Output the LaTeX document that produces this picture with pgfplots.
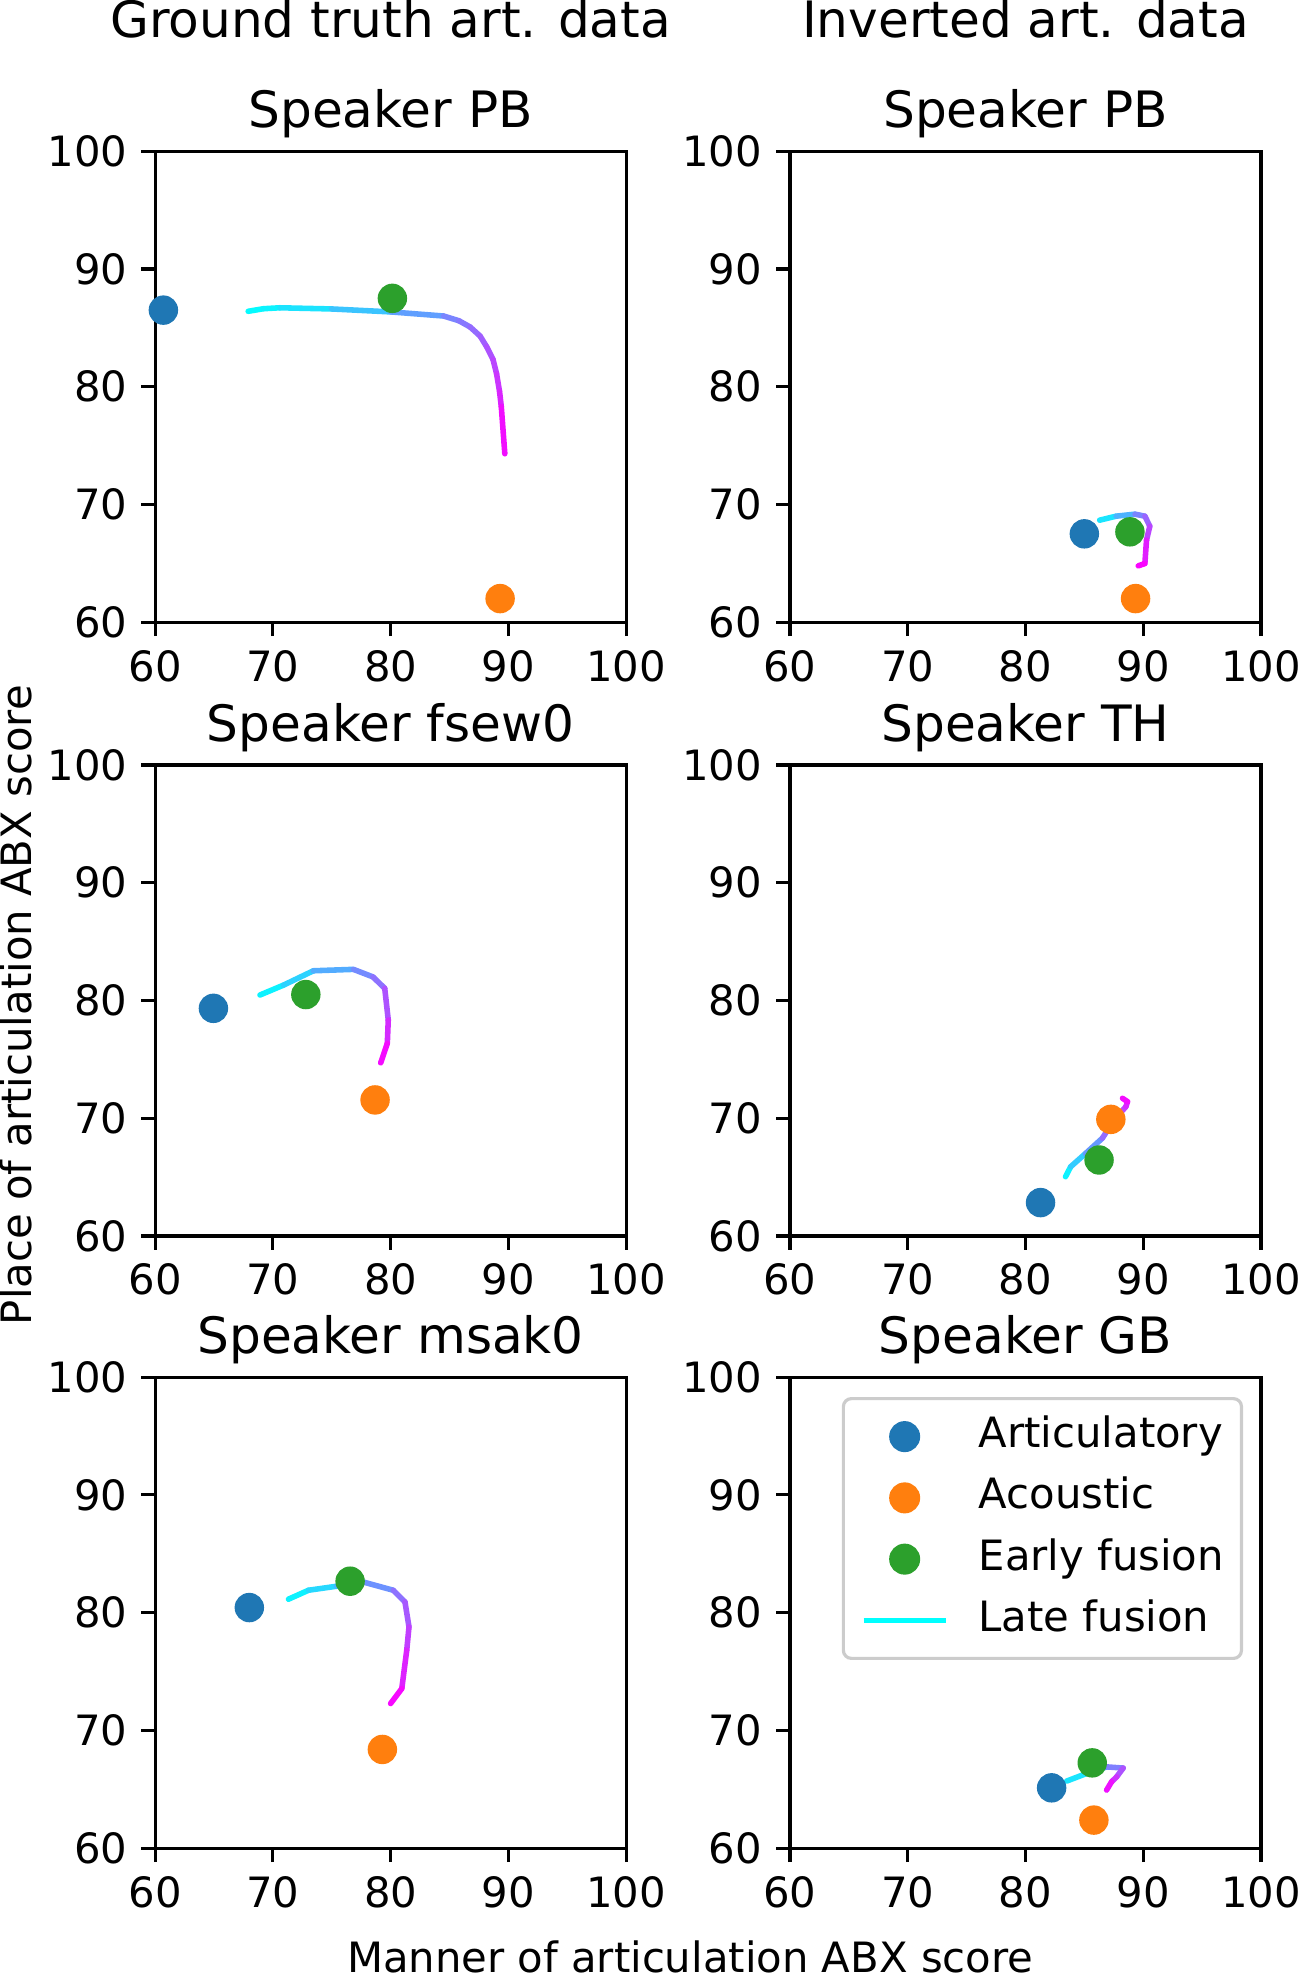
\documentclass[border=0pt]{standalone}
\usepackage{pgfplots}
\pgfplotsset{compat=1.18}
\usepackage{fontspec}
\setmainfont{DejaVu Sans}
\definecolor{tabblue}{HTML}{1F77B4}
\definecolor{taborange}{HTML}{FF7F0E}
\definecolor{tabgreen}{HTML}{2CA02C}
\definecolor{coolstart}{rgb}{0,1,1}

\pgfplotsset{
  panel/.style={
    width=118.4pt, height=118.4pt, scale only axis, anchor=north west,
    xmin=60, xmax=100, ymin=60, ymax=100,
    xtick={60,70,80,90,100}, ytick={60,70,80,90,100},
    xtick pos=left, ytick pos=left,
    tick align=outside, major tick length=3.5pt,
    tick style={black, line width=0.8pt},
    axis line style={line width=0.8pt},
    ticklabel style={font=\fontsize{10.5}{12.6}\selectfont},
    /pgf/number format/assume math mode=true,
    title style={font=\fontsize{12.6}{15}\selectfont, anchor=base},
    point meta min=0, point meta max=1,
    colormap={cool}{rgb=(0,1,1) rgb=(1,0,1)},
  },
  dotleg/.style={legend image code/.code={\draw[mark repeat=2,mark phase=2,##1] plot coordinates {(0pt,0pt) (10.3pt,0pt) (20.6pt,0pt)};}},
  lateleg/.style={legend image code/.code={\draw[##1] (0pt,0pt) -- (20.6pt,0pt);}},
  art/.style={only marks, mark=*, mark size=3.5pt, color=tabblue, dotleg},
  aco/.style={only marks, mark=*, mark size=3.5pt, color=taborange, dotleg},
  early/.style={only marks, mark=*, mark size=3.5pt, color=tabgreen, dotleg},
  late/.style={mesh, point meta=explicit, line width=1.4pt, line cap=round, line join=round, forget plot},
}

\begin{document}
\begin{tikzpicture}
\useasboundingbox (0,0) rectangle (326.6pt,-496.5pt);

\node[anchor=base, font=\fontsize{12.6}{15}\selectfont] at (98.2pt,-9.4pt) {Ground truth art. data};
\node[anchor=base, font=\fontsize{12.6}{15}\selectfont] at (257.8pt,-9.4pt) {Inverted art. data};
\node[anchor=base, rotate=90, font=\fontsize{10.5}{12.6}\selectfont] at (8.0pt,-252.7pt) {Place of articulation ABX score};
\node[anchor=base, font=\fontsize{10.5}{12.6}\selectfont] at (173.5pt,-495.8pt) {Manner of articulation ABX score};

% ground truth, PB
\begin{axis}[panel, at={(39.0pt,-38.0pt)}, title={Speaker PB}]
\addplot[art] coordinates {(60.7,86.5)};
\addplot[aco] coordinates {(89.3,62.0)};
\addplot[early] coordinates {(80.15,87.5)};
\addplot[late] coordinates {(67.9,86.4) [0] (69.2,86.62) [0.03] (70.6,86.7) [0.06] (75.0,86.6) [0.16] (80.0,86.35) [0.3] (84.5,86.0) [0.45] (85.8,85.6) [0.5] (86.75,85.07) [0.55] (87.6,84.3) [0.6] (88.15,83.4) [0.65] (88.7,82.3) [0.7] (89.0,81.1) [0.75] (89.25,79.6) [0.82] (89.4,78.3) [0.88] (89.7,74.3) [1]};
\end{axis}

% inverted, PB
\begin{axis}[panel, at={(198.6pt,-38.0pt)}, title={Speaker PB}]
\addplot[art] coordinates {(85.0,67.5)};
\addplot[aco] coordinates {(89.35,62.0)};
\addplot[early] coordinates {(88.87,67.67)};
\addplot[late] coordinates {(86.3,68.66) [0] (87.7,69.0) [0.2] (89.3,69.17) [0.4] (90.14,69.0) [0.55] (90.56,68.15) [0.65] (90.28,66.96) [0.8] (90.14,64.98) [0.95] (89.58,64.78) [1]};
\end{axis}

% ground truth, fsew0
\begin{axis}[panel, at={(39.0pt,-192.3pt)}, title={Speaker fsew0}]
\addplot[art] coordinates {(64.95,79.33)};
\addplot[aco] coordinates {(78.68,71.55)};
\addplot[early] coordinates {(72.8,80.5)};
\addplot[late] coordinates {(68.9,80.46) [0] (70.9,81.3) [0.1] (73.44,82.52) [0.25] (76.84,82.64) [0.4] (78.5,82.0) [0.5] (79.5,81.03) [0.6] (79.8,78.34) [0.75] (79.72,76.36) [0.9] (79.16,74.7) [1]};
\end{axis}

% inverted, TH
\begin{axis}[panel, at={(198.6pt,-192.3pt)}, title={Speaker TH}]
\addplot[art] coordinates {(81.28,62.83)};
\addplot[aco] coordinates {(87.25,69.9)};
\addplot[early] coordinates {(86.25,66.45)};
\addplot[late] coordinates {(83.4,65.03) [0] (83.84,65.88) [0.1] (85.1,67.0) [0.3] (86.53,68.3) [0.5] (87.53,69.85) [0.65] (88.53,70.98) [0.8] (88.67,71.4) [0.9] (88.24,71.69) [1]};
\end{axis}

% ground truth, msak0
\begin{axis}[panel, at={(39.0pt,-346.2pt)}, title={Speaker msak0}]
\addplot[art] coordinates {(68.0,80.43)};
\addplot[aco] coordinates {(79.3,68.38)};
\addplot[early] coordinates {(76.56,82.67)};
\addplot[late] coordinates {(71.32,81.14) [0] (73.02,81.9) [0.1] (75.4,82.24) [0.2] (77.68,82.6) [0.35] (80.23,81.9) [0.5] (81.22,80.91) [0.6] (81.56,78.79) [0.7] (81.37,76.81) [0.8] (80.95,73.55) [0.92] (80.0,72.28) [1]};
\end{axis}

% inverted, GB
\begin{axis}[panel, at={(198.6pt,-346.2pt)}, title={Speaker GB},
  legend cell align=left,
  legend style={at={(1,1)}, anchor=north east, xshift=-4.5pt, yshift=-5pt,
    draw=black!20, line width=0.8pt, rounded corners=2pt, fill=white,
    font=\fontsize{10.5}{12.6}\selectfont, inner xsep=4.4pt, inner ysep=2.3pt,
    row sep=0.9pt,
    nodes={inner xsep=0pt, inner ysep=2pt, text height=8pt, text depth=2.5pt},
    /tikz/every odd column/.append style={column sep=7.6pt}}]
\addplot[art] coordinates {(82.22,65.12)};
\addlegendentry{Articulatory}
\addplot[aco] coordinates {(85.81,62.38)};
\addlegendentry{Acoustic}
\addplot[early] coordinates {(85.67,67.24)};
\addlegendentry{Early fusion}
\addplot[late] coordinates {(83.49,65.69) [0] (85.19,66.34) [0.2] (86.89,66.9) [0.4] (88.3,66.8) [0.6] (87.74,66.05) [0.75] (87.31,65.63) [0.85] (86.89,64.93) [1]};
\addlegendimage{lateleg, coolstart, line width=1.4pt}
\addlegendentry{Late fusion}
\end{axis}
\end{tikzpicture}
\end{document}
